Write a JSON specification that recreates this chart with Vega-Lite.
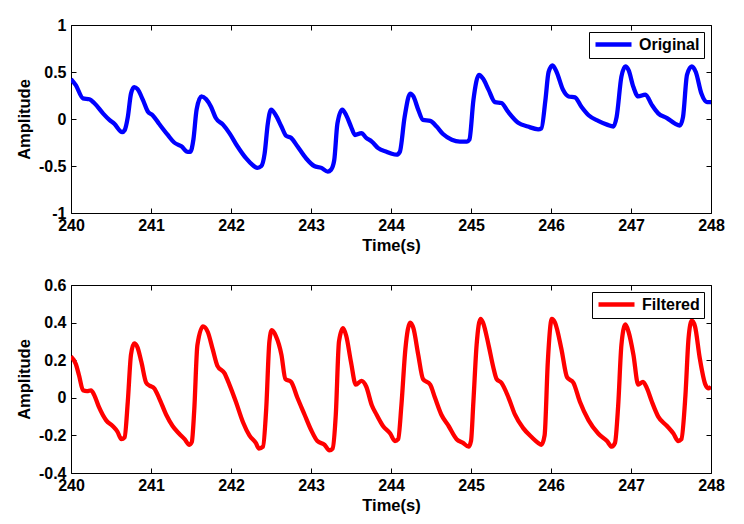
{
  "$schema": "https://vega.github.io/schema/vega-lite/v6.json",
  "background": "white",
  "padding": {"left": 15, "top": 16, "right": 20, "bottom": 5},
  "spacing": 22,
  "config": {
    "font": "Liberation Sans",
    "view": {"stroke": "black", "strokeWidth": 1},
    "axis": {
      "grid": false, "domain": false,
      "labelFont": "Liberation Sans", "labelFontSize": 16, "labelFontWeight": "bold", "labelColor": "black",
      "titleFont": "Liberation Sans", "titleFontSize": 16.5, "titleFontWeight": "bold", "titleColor": "black",
      "tickColor": "black", "tickSize": 5, "tickWidth": 1, "offset": -5
    },
    "legend": {
      "orient": "top-right", "offset": 7, "title": null, "zindex": 1,
      "strokeColor": "black", "fillColor": "white", "padding": 4,
      "symbolType": "M-1,0H5", "symbolSize": 144, "symbolStrokeWidth": 4.5, "labelOffset": 29,
      "labelFont": "Liberation Sans", "labelFontSize": 16, "labelFontWeight": "bold", "labelColor": "black"
    }
  },
  "datasets": {
    "orig": [
      {"t":240,"v":0.425},{"t":240.06,"v":0.36},{"t":240.15,"v":0.22},{"t":240.23,"v":0.21},{"t":240.29,"v":0.17},{"t":240.4,"v":0.06},{"t":240.48,"v":-0.01},{"t":240.54,"v":-0.05},{"t":240.64,"v":-0.14},{"t":240.67,"v":-0.12},{"t":240.71,"v":0.02},{"t":240.75,"v":0.27},{"t":240.79,"v":0.34},{"t":240.83,"v":0.32},{"t":240.9,"v":0.2},{"t":240.96,"v":0.08},{"t":241.02,"v":0.04},{"t":241.1,"v":-0.05},{"t":241.21,"v":-0.17},{"t":241.29,"v":-0.25},{"t":241.38,"v":-0.29},{"t":241.46,"v":-0.35},{"t":241.49,"v":-0.35},{"t":241.53,"v":-0.22},{"t":241.57,"v":0.1},{"t":241.63,"v":0.24},{"t":241.69,"v":0.21},{"t":241.75,"v":0.13},{"t":241.81,"v":0.01},{"t":241.9,"v":-0.06},{"t":241.98,"v":-0.15},{"t":242.08,"v":-0.29},{"t":242.19,"v":-0.42},{"t":242.27,"v":-0.49},{"t":242.33,"v":-0.52},{"t":242.38,"v":-0.5},{"t":242.42,"v":-0.37},{"t":242.46,"v":-0.05},{"t":242.5,"v":0.1},{"t":242.56,"v":0.04},{"t":242.63,"v":-0.08},{"t":242.69,"v":-0.18},{"t":242.75,"v":-0.2},{"t":242.83,"v":-0.29},{"t":242.94,"v":-0.42},{"t":243.04,"v":-0.5},{"t":243.13,"v":-0.52},{"t":243.21,"v":-0.56},{"t":243.25,"v":-0.54},{"t":243.29,"v":-0.44},{"t":243.33,"v":-0.05},{"t":243.39,"v":0.1},{"t":243.44,"v":0.04},{"t":243.5,"v":-0.08},{"t":243.55,"v":-0.17},{"t":243.63,"v":-0.15},{"t":243.69,"v":-0.2},{"t":243.76,"v":-0.24},{"t":243.84,"v":-0.31},{"t":243.95,"v":-0.35},{"t":244.01,"v":-0.37},{"t":244.07,"v":-0.38},{"t":244.11,"v":-0.35},{"t":244.17,"v":0.02},{"t":244.24,"v":0.27},{"t":244.28,"v":0.24},{"t":244.34,"v":0.1},{"t":244.4,"v":-0.01},{"t":244.49,"v":-0.02},{"t":244.57,"v":-0.08},{"t":244.65,"v":-0.16},{"t":244.76,"v":-0.22},{"t":244.86,"v":-0.24},{"t":244.95,"v":-0.24},{"t":244.98,"v":-0.22},{"t":245.03,"v":0.2},{"t":245.1,"v":0.47},{"t":245.15,"v":0.43},{"t":245.22,"v":0.31},{"t":245.3,"v":0.18},{"t":245.38,"v":0.17},{"t":245.46,"v":0.08},{"t":245.59,"v":-0.04},{"t":245.71,"v":-0.08},{"t":245.84,"v":-0.11},{"t":245.88,"v":-0.1},{"t":245.93,"v":0.2},{"t":245.97,"v":0.5},{"t":246.02,"v":0.57},{"t":246.07,"v":0.5},{"t":246.15,"v":0.31},{"t":246.22,"v":0.24},{"t":246.3,"v":0.23},{"t":246.38,"v":0.13},{"t":246.47,"v":0.04},{"t":246.59,"v":-0.02},{"t":246.7,"v":-0.06},{"t":246.78,"v":-0.08},{"t":246.82,"v":0.02},{"t":246.88,"v":0.45},{"t":246.93,"v":0.56},{"t":246.97,"v":0.52},{"t":247.03,"v":0.34},{"t":247.09,"v":0.24},{"t":247.18,"v":0.26},{"t":247.26,"v":0.15},{"t":247.34,"v":0.06},{"t":247.45,"v":0.01},{"t":247.55,"v":-0.05},{"t":247.61,"v":-0.07},{"t":247.65,"v":0.02},{"t":247.7,"v":0.47},{"t":247.76,"v":0.56},{"t":247.81,"v":0.5},{"t":247.88,"v":0.27},{"t":247.95,"v":0.18},{"t":248,"v":0.18}
    ],
    "filt": [
      {"t":240,"v":0.22},{"t":240.06,"v":0.18},{"t":240.1,"v":0.12},{"t":240.15,"v":0.04},{"t":240.2,"v":0.035},{"t":240.25,"v":0.04},{"t":240.29,"v":0.015},{"t":240.35,"v":-0.05},{"t":240.44,"v":-0.12},{"t":240.52,"v":-0.15},{"t":240.58,"v":-0.18},{"t":240.63,"v":-0.22},{"t":240.67,"v":-0.21},{"t":240.71,"v":-0.02},{"t":240.75,"v":0.23},{"t":240.79,"v":0.29},{"t":240.83,"v":0.27},{"t":240.88,"v":0.19},{"t":240.94,"v":0.08},{"t":240.98,"v":0.065},{"t":241.04,"v":0.05},{"t":241.1,"v":0.0},{"t":241.19,"v":-0.09},{"t":241.27,"v":-0.15},{"t":241.35,"v":-0.19},{"t":241.42,"v":-0.22},{"t":241.48,"v":-0.25},{"t":241.51,"v":-0.235},{"t":241.54,"v":-0.07},{"t":241.58,"v":0.28},{"t":241.65,"v":0.38},{"t":241.71,"v":0.35},{"t":241.77,"v":0.26},{"t":241.83,"v":0.17},{"t":241.92,"v":0.13},{"t":241.98,"v":0.07},{"t":242.06,"v":-0.02},{"t":242.15,"v":-0.13},{"t":242.23,"v":-0.2},{"t":242.31,"v":-0.24},{"t":242.35,"v":-0.27},{"t":242.4,"v":-0.26},{"t":242.44,"v":-0.06},{"t":242.48,"v":0.3},{"t":242.51,"v":0.36},{"t":242.56,"v":0.33},{"t":242.63,"v":0.23},{"t":242.68,"v":0.1},{"t":242.75,"v":0.085},{"t":242.83,"v":0.0},{"t":242.92,"v":-0.09},{"t":243.0,"v":-0.17},{"t":243.08,"v":-0.23},{"t":243.17,"v":-0.25},{"t":243.23,"v":-0.28},{"t":243.27,"v":-0.27},{"t":243.31,"v":-0.09},{"t":243.35,"v":0.3},{"t":243.4,"v":0.37},{"t":243.44,"v":0.33},{"t":243.5,"v":0.19},{"t":243.56,"v":0.07},{"t":243.63,"v":0.09},{"t":243.69,"v":0.06},{"t":243.76,"v":-0.04},{"t":243.82,"v":-0.09},{"t":243.9,"v":-0.15},{"t":243.99,"v":-0.19},{"t":244.05,"v":-0.23},{"t":244.09,"v":-0.22},{"t":244.13,"v":-0.04},{"t":244.18,"v":0.26},{"t":244.24,"v":0.4},{"t":244.28,"v":0.37},{"t":244.34,"v":0.23},{"t":244.4,"v":0.1},{"t":244.49,"v":0.07},{"t":244.55,"v":0.0},{"t":244.63,"v":-0.09},{"t":244.72,"v":-0.15},{"t":244.82,"v":-0.22},{"t":244.9,"v":-0.24},{"t":244.97,"v":-0.26},{"t":245.0,"v":-0.23},{"t":245.03,"v":-0.02},{"t":245.07,"v":0.28},{"t":245.12,"v":0.42},{"t":245.15,"v":0.4},{"t":245.22,"v":0.28},{"t":245.28,"v":0.16},{"t":245.32,"v":0.1},{"t":245.38,"v":0.08},{"t":245.47,"v":0.0},{"t":245.55,"v":-0.09},{"t":245.65,"v":-0.16},{"t":245.76,"v":-0.21},{"t":245.84,"v":-0.24},{"t":245.88,"v":-0.25},{"t":245.92,"v":-0.2},{"t":245.96,"v":0.19},{"t":246.01,"v":0.42},{"t":246.05,"v":0.4},{"t":246.13,"v":0.26},{"t":246.2,"v":0.11},{"t":246.28,"v":0.08},{"t":246.36,"v":-0.02},{"t":246.47,"v":-0.12},{"t":246.59,"v":-0.19},{"t":246.7,"v":-0.23},{"t":246.76,"v":-0.26},{"t":246.8,"v":-0.24},{"t":246.84,"v":-0.04},{"t":246.88,"v":0.28},{"t":246.93,"v":0.39},{"t":246.97,"v":0.35},{"t":247.03,"v":0.23},{"t":247.09,"v":0.07},{"t":247.15,"v":0.085},{"t":247.2,"v":0.05},{"t":247.26,"v":-0.02},{"t":247.34,"v":-0.1},{"t":247.45,"v":-0.15},{"t":247.53,"v":-0.19},{"t":247.59,"v":-0.23},{"t":247.63,"v":-0.22},{"t":247.68,"v":0.01},{"t":247.72,"v":0.32},{"t":247.76,"v":0.41},{"t":247.8,"v":0.38},{"t":247.86,"v":0.21},{"t":247.93,"v":0.07},{"t":247.97,"v":0.05},{"t":248,"v":0.06}
    ]
  },
  "vconcat": [
    {
      "width": 640, "height": 188,
      "data": {"name": "orig"},
      "resolve": {"axis": {"x": "independent", "y": "independent"}},
      "layer": [
        {
          "mark": {"type": "line", "strokeWidth": 4.3, "interpolate": "monotone", "clip": true},
          "encoding": {
            "x": {"field": "t", "type": "quantitative", "scale": {"domain": [240, 248], "nice": false, "zero": false},
                  "axis": {"values": [240,241,242,243,244,245,246,247,248], "title": "Time(s)", "labelPadding": 4, "titlePadding": 4, "labelFlush": false}},
            "y": {"field": "v", "type": "quantitative", "scale": {"domain": [-1, 1], "nice": false},
                  "axis": {"values": [-1,-0.5,0,0.5,1], "labelExpr": "toString(datum.value)", "title": "Amplitude", "labelPadding": 5, "titlePadding": 6}},
            "color": {"datum": "Original", "type": "nominal", "scale": {"range": ["#0000ff"]}}
          }
        },
        {
          "mark": {"type": "point", "opacity": 0},
          "encoding": {
            "x": {"field": "t", "type": "quantitative", "axis": {"orient": "top", "labels": false, "title": null, "values": [240,241,242,243,244,245,246,247,248]}},
            "y": {"field": "v", "type": "quantitative", "axis": {"orient": "right", "labels": false, "title": null, "values": [-1,-0.5,0,0.5,1]}}
          }
        }
      ]
    },
    {
      "width": 640, "height": 188,
      "data": {"name": "filt"},
      "resolve": {"axis": {"x": "independent", "y": "independent"}},
      "layer": [
        {
          "mark": {"type": "line", "strokeWidth": 4.3, "interpolate": "monotone", "clip": true},
          "encoding": {
            "x": {"field": "t", "type": "quantitative", "scale": {"domain": [240, 248], "nice": false, "zero": false},
                  "axis": {"values": [240,241,242,243,244,245,246,247,248], "title": "Time(s)", "labelPadding": 4, "titlePadding": 4, "labelFlush": false}},
            "y": {"field": "v", "type": "quantitative", "scale": {"domain": [-0.4, 0.6], "nice": false, "zero": false},
                  "axis": {"values": [-0.4,-0.2,0,0.2,0.4,0.6], "labelExpr": "toString(datum.value)", "title": "Amplitude", "labelPadding": 5, "titlePadding": 6}},
            "color": {"datum": "Filtered", "type": "nominal", "scale": {"range": ["#ff0000"]}}
          }
        },
        {
          "mark": {"type": "point", "opacity": 0},
          "encoding": {
            "x": {"field": "t", "type": "quantitative", "axis": {"orient": "top", "labels": false, "title": null, "values": [240,241,242,243,244,245,246,247,248]}},
            "y": {"field": "v", "type": "quantitative", "axis": {"orient": "right", "labels": false, "title": null, "values": [-0.4,-0.2,0,0.2,0.4,0.6]}}
          }
        }
      ]
    }
  ],
  "resolve": {"scale": {"color": "independent"}}
}
